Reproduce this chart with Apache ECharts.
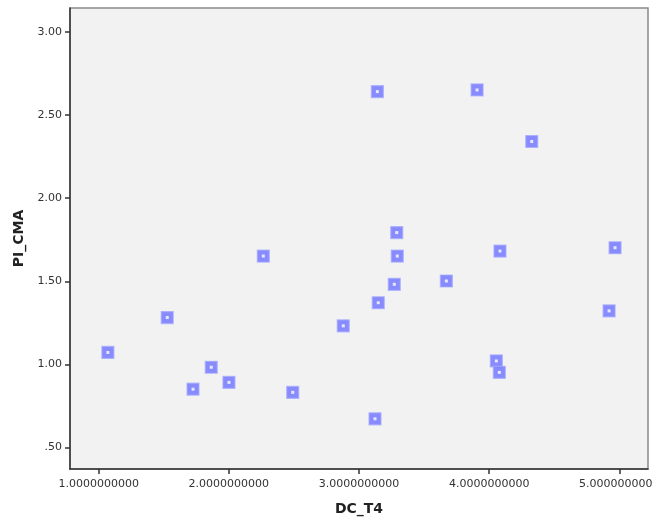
<!DOCTYPE html>
<html>
<head>
<meta charset="utf-8">
<script src="https://cdn.jsdelivr.net/npm/echarts@6/dist/echarts.min.js"></script>
<style>html,body{margin:0;padding:0;background:#fff}#c{width:653px;height:522px}</style>
</head>
<body>
<div id="c"></div>
<script>
var dcT4 = [1.071, 1.527, 1.725, 1.865, 2.001, 2.265, 2.491, 2.879, 3.123, 3.141, 3.148, 3.271, 3.290, 3.294, 3.671, 3.907, 4.055, 4.078, 4.083, 4.327, 4.921, 4.967];
var piCma = [1.072, 1.282, 0.851, 0.983, 0.892, 1.652, 0.832, 1.232, 0.673, 2.641, 1.371, 1.482, 1.793, 1.652, 1.502, 2.651, 1.021, 0.952, 1.682, 2.341, 1.322, 1.702];
var xTicks = [1, 2, 3, 4, 5];
var yTicks = [0.5, 1.0, 1.5, 2.0, 2.5, 3.0];

var pts = dcT4.map(function (x, i) { return [x, piCma[i]]; });
var chart = echarts.init(document.getElementById('c'));
var labelFont = { fontFamily: 'DejaVu Sans', fontSize: 11, color: '#333' };
chart.setOption({
  animation: false,
  grid: { left: 70, right: 5, top: 8, bottom: 53, outerBoundsMode: 'none', containLabel: false, show: true, backgroundColor: '#f2f2f2', borderColor: '#8a8a8a', borderWidth: 1.5 },
  xAxis: {
    type: 'value', min: 0.78, max: 5.22,
    name: 'DC_T4', nameLocation: 'middle', nameGap: 33,
    nameTextStyle: { fontFamily: 'DejaVu Sans', fontSize: 14, fontWeight: 'bold', color: '#222' },
    axisLine: { show: true, lineStyle: { color: '#333', width: 1.5 } },
    axisTick: { show: true, length: 5, customValues: xTicks, lineStyle: { color: '#333', width: 1.5 } },
    axisLabel: Object.assign({ margin: 10, customValues: xTicks, formatter: function (v) { return v.toFixed(10); } }, labelFont),
    splitLine: { show: false }
  },
  yAxis: {
    type: 'value', min: 0.371, max: 3.144,
    name: 'PI_CMA', nameLocation: 'middle', nameGap: 36,
    nameTextStyle: { fontFamily: 'DejaVu Sans', fontSize: 14, fontWeight: 'bold', color: '#222' },
    axisLine: { show: true, lineStyle: { color: '#333', width: 1.5 } },
    axisTick: { show: true, length: 5, customValues: yTicks, lineStyle: { color: '#333', width: 1.5 } },
    axisLabel: Object.assign({ margin: 8, customValues: yTicks, formatter: function (v) { var s = v.toFixed(2); return s.charAt(0) === '0' ? s.slice(1) : s; } }, labelFont),
    splitLine: { show: false }
  },
  series: [
    { type: 'scatter', data: pts, symbol: 'rect', symbolSize: 12,
      itemStyle: { color: '#6b70ff', borderColor: 'rgba(165,170,255,0.9)', borderWidth: 1.2 } },
    { type: 'scatter', data: pts, symbol: 'rect', symbolSize: 3, silent: true,
      itemStyle: { color: '#ffffff' } }
  ]
});
</script>
</body>
</html>
